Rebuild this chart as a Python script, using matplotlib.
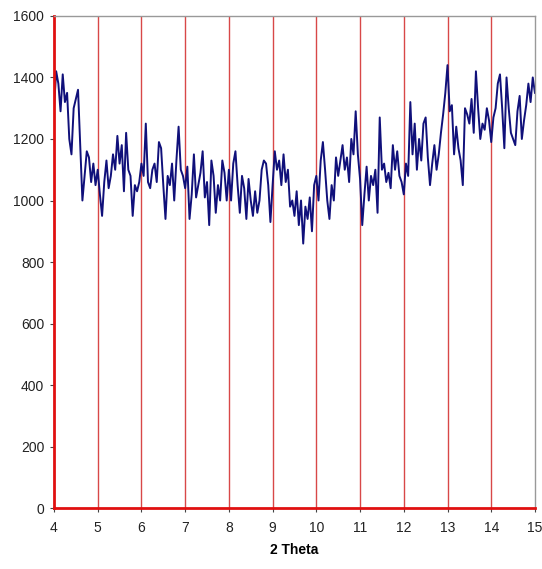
import numpy as np
import matplotlib
matplotlib.use("Agg")
import matplotlib.pyplot as plt

plt.rcParams['font.family'] = ['Liberation Sans', 'DejaVu Sans']

# 2 Theta, шаг 0.05 от 4 до 15
two_theta = np.round(np.arange(4.0, 15.0001, 0.05), 2)

seg_4 = [1300, 1420, 1380, 1290, 1410, 1320, 1350, 1200, 1150, 1300,
         1330, 1360, 1180, 1000, 1080, 1160, 1140, 1060, 1120, 1050]
seg_5 = [1100, 1020, 950, 1060, 1130, 1040, 1080, 1150, 1100, 1210,
         1120, 1180, 1030, 1220, 1100, 1080, 950, 1050, 1030, 1060]
seg_6 = [1120, 1080, 1250, 1060, 1040, 1100, 1120, 1060, 1190, 1170,
         1050, 940, 1080, 1050, 1120, 1000, 1130, 1240, 1100, 1080]
seg_7 = [1040, 1110, 940, 1020, 1150, 1010, 1050, 1090, 1160, 1010,
         1060, 920, 1130, 1080, 960, 1050, 1000, 1130, 1090, 1000]
seg_8 = [1100, 1000, 1120, 1160, 1050, 960, 1080, 1040, 940, 1070,
         1000, 950, 1030, 960, 1000, 1100, 1130, 1120, 1050, 930]
seg_9 = [1050, 1160, 1100, 1130, 1050, 1150, 1060, 1100, 980, 1000,
         950, 1030, 920, 1000, 860, 980, 940, 1010, 900, 1050]
seg_10 = [1080, 1000, 1130, 1190, 1100, 1000, 940, 1050, 1000, 1140,
          1080, 1130, 1180, 1100, 1140, 1060, 1200, 1150, 1290, 1150]
seg_11 = [1070, 920, 1020, 1110, 1000, 1080, 1050, 1100, 960, 1270,
          1100, 1120, 1060, 1090, 1040, 1180, 1100, 1160, 1080, 1060]
seg_12 = [1020, 1120, 1080, 1320, 1150, 1250, 1100, 1200, 1130, 1250,
          1270, 1140, 1050, 1120, 1180, 1100, 1150, 1220, 1280, 1350]
seg_13 = [1440, 1290, 1310, 1150, 1240, 1170, 1130, 1050, 1300, 1280,
          1250, 1330, 1220, 1420, 1300, 1200, 1250, 1230, 1300, 1260]
seg_14 = [1190, 1270, 1300, 1380, 1410, 1300, 1170, 1400, 1300, 1220,
          1200, 1180, 1290, 1340, 1200, 1260, 1310, 1380, 1320, 1400, 1350]

intensity = seg_4 + seg_5 + seg_6 + seg_7 + seg_8 + seg_9 + seg_10 + seg_11 + seg_12 + seg_13 + seg_14

x_ticks = list(range(4, 16))
y_ticks = list(range(0, 1601, 200))

fig = plt.figure(figsize=(5.42, 5.69), dpi=100)
ax = fig.add_axes([0.0996, 0.107, 0.8874, 0.865])

# вертикальные красные линии сетки
for xv in x_ticks[1:-1]:
    ax.axvline(xv, color='#d84848', lw=1.0, zorder=1)

ax.plot(two_theta, intensity, color='#10107a', lw=1.4, zorder=2)

ax.set_xlim(4, 15)
ax.set_ylim(0, 1600)
ax.set_xticks(x_ticks)
ax.set_yticks(y_ticks)
ax.tick_params(labelsize=10, length=3, color='#444444', labelcolor='#222222', pad=4)
ax.tick_params(axis='x', pad=6)

ax.spines['left'].set_color('#e01010')
ax.spines['left'].set_linewidth(2)
ax.spines['bottom'].set_color('#e01010')
ax.spines['bottom'].set_linewidth(2)
ax.spines['top'].set_color('#999999')
ax.spines['right'].set_color('#999999')
ax.spines['top'].set_linewidth(1)
ax.spines['right'].set_linewidth(1)

ax.set_xlabel("2 Theta", fontsize=10, fontweight='bold', labelpad=6)

fig.savefig("out.png", dpi=100)
